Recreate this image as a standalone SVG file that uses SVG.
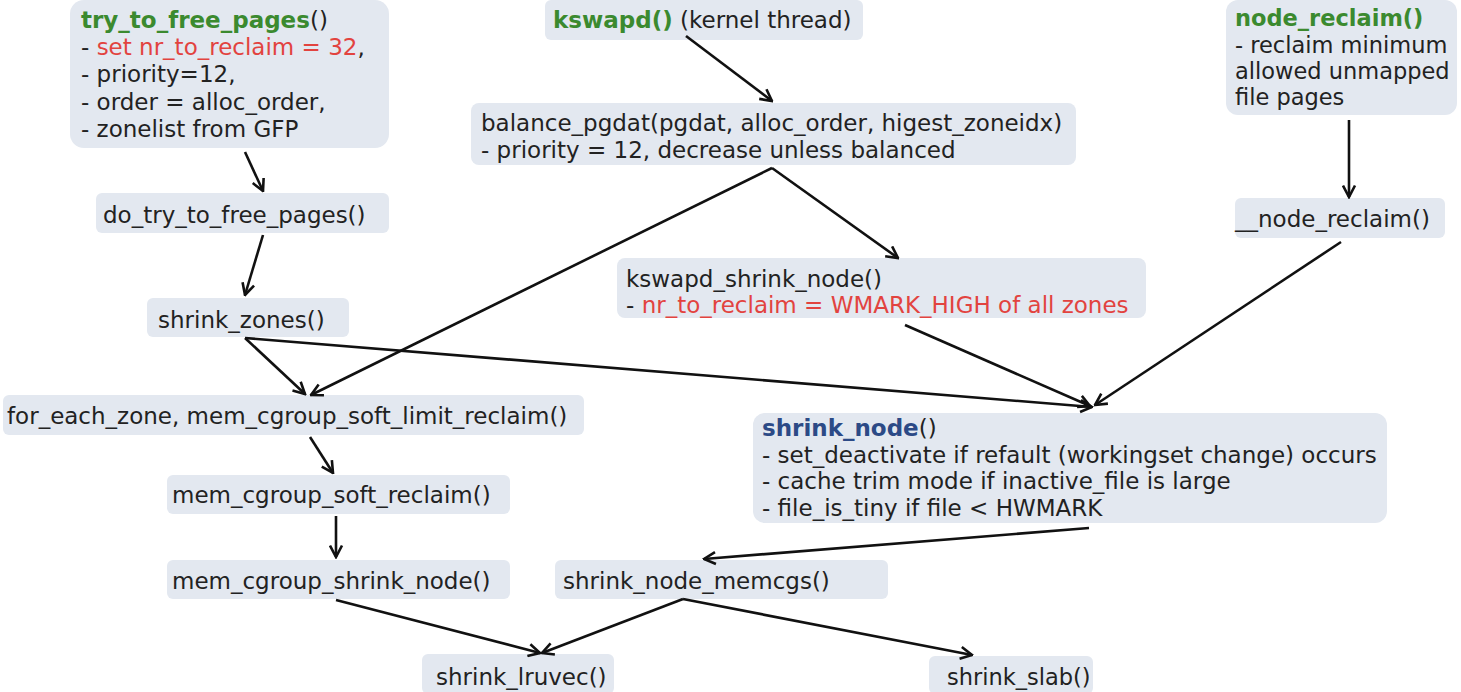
<svg xmlns="http://www.w3.org/2000/svg" width="1461" height="692" viewBox="0 0 1461 692">
<defs>
<style>
.box{fill:#e3e8f0;}
text{font-family:"DejaVu Sans",Verdana,sans-serif;font-size:23px;fill:#222;}
.g{fill:#3b8a2f;font-weight:bold;}
.b{fill:#2c4a86;font-weight:bold;}
.r{fill:#e2433f;}
.sm{font-size:22.5px;}
.edge{stroke:#111;stroke-width:2.6;fill:none;marker-end:url(#arr);}
</style>
<marker id="arr" viewBox="0 0 15 15" refX="13.5" refY="7.5" markerWidth="15" markerHeight="15" markerUnits="userSpaceOnUse" orient="auto">
<path d="M2,1.5 L13.5,7.5 L2,13.5" fill="none" stroke="#111" stroke-width="2.6" stroke-linejoin="miter"/>
</marker>
</defs>
<rect width="1461" height="692" fill="#ffffff"/>

<g id="try_to_free_pages">
<rect class="box" x="70" y="0" width="319" height="148" rx="14"/>
<text x="81" y="28"><tspan class="g">try_to_free_pages</tspan>()</text>
<text x="81" y="55">- <tspan class="r">set nr_to_reclaim = 32</tspan>,</text>
<text x="81" y="82">- priority=12,</text>
<text x="81" y="110">- order = alloc_order,</text>
<text x="81" y="137">- zonelist from GFP</text>
</g>

<g id="kswapd">
<rect class="box" x="545" y="0" width="318" height="40" rx="6"/>
<text x="553" y="28"><tspan class="g">kswapd()</tspan> (kernel thread)</text>
</g>

<g id="node_reclaim">
<rect class="box" x="1226" y="0" width="231" height="115" rx="12"/>
<text class="sm" x="1235" y="26"><tspan class="g">node_reclaim()</tspan></text>
<text class="sm" x="1235" y="53">- reclaim minimum</text>
<text class="sm" x="1235" y="79">allowed unmapped</text>
<text class="sm" x="1235" y="105">file pages</text>
</g>

<g id="balance_pgdat">
<rect class="box" x="471" y="103" width="605" height="62" rx="8"/>
<text x="481" y="131">balance_pgdat(pgdat, alloc_order, higest_zoneidx)</text>
<text x="481" y="158">- priority = 12, decrease unless balanced</text>
</g>

<g id="do_try_to_free_pages">
<rect class="box" x="96" y="193" width="293" height="40" rx="6"/>
<text x="103" y="223">do_try_to_free_pages()</text>
</g>

<g id="__node_reclaim">
<rect class="box" x="1235" y="198" width="210" height="40" rx="6"/>
<text x="1235" y="227">__node_reclaim()</text>
</g>

<g id="kswapd_shrink_node">
<rect class="box" x="617" y="258" width="529" height="60" rx="8"/>
<text x="626" y="287">kswapd_shrink_node()</text>
<text x="626" y="313">- <tspan class="r">nr_to_reclaim = WMARK_HIGH of all zones</tspan></text>
</g>

<g id="shrink_zones">
<rect class="box" x="147" y="298" width="202" height="39" rx="6"/>
<text x="158" y="328">shrink_zones()</text>
</g>

<g id="for_each_zone">
<rect class="box" x="3" y="395" width="581" height="40" rx="6"/>
<text x="7" y="424">for_each_zone, mem_cgroup_soft_limit_reclaim()</text>
</g>

<g id="shrink_node">
<rect class="box" x="753" y="413" width="634" height="110" rx="12"/>
<text x="762" y="436"><tspan class="b">shrink_node</tspan>()</text>
<text x="762" y="463">- set_deactivate if refault (workingset change) occurs</text>
<text x="762" y="489">- cache trim mode if inactive_file is large</text>
<text x="762" y="516">- file_is_tiny if file &lt; HWMARK</text>
</g>

<g id="mem_cgroup_soft_reclaim">
<rect class="box" x="167" y="475" width="343" height="39" rx="6"/>
<text x="172" y="503">mem_cgroup_soft_reclaim()</text>
</g>

<g id="mem_cgroup_shrink_node">
<rect class="box" x="167" y="560" width="343" height="39" rx="6"/>
<text x="172" y="589">mem_cgroup_shrink_node()</text>
</g>

<g id="shrink_node_memcgs">
<rect class="box" x="555" y="560" width="333" height="39" rx="6"/>
<text x="563" y="589">shrink_node_memcgs()</text>
</g>

<g id="shrink_lruvec">
<rect class="box" x="422" y="654" width="192" height="40" rx="6"/>
<text x="436" y="685">shrink_lruvec()</text>
</g>

<g id="shrink_slab">
<rect class="box" x="929" y="656" width="164" height="38" rx="6"/>
<text class="sm" x="947" y="685">shrink_slab()</text>
</g>

<g id="edges">
<line class="edge" x1="245" y1="152" x2="263" y2="191"/>
<line class="edge" x1="263" y1="235" x2="245" y2="295"/>
<line class="edge" x1="686" y1="36" x2="772" y2="101"/>
<line class="edge" x1="772" y1="168" x2="311" y2="395"/>
<line class="edge" x1="772" y1="168" x2="898" y2="258"/>
<line class="edge" x1="1349" y1="120" x2="1349" y2="197"/>
<line class="edge" x1="245" y1="338" x2="305" y2="394"/>
<line class="edge" x1="245" y1="338" x2="1092" y2="407"/>
<line class="edge" x1="905" y1="325" x2="1090" y2="406"/>
<line class="edge" x1="1341" y1="242" x2="1095" y2="405"/>
<line class="edge" x1="310" y1="437" x2="333" y2="473"/>
<line class="edge" x1="336" y1="516" x2="336" y2="557"/>
<line class="edge" x1="1089" y1="528" x2="704" y2="559"/>
<line class="edge" x1="336" y1="600" x2="540" y2="653"/>
<line class="edge" x1="683" y1="599" x2="542" y2="653"/>
<line class="edge" x1="683" y1="599" x2="972" y2="655"/>
</g>
</svg>
